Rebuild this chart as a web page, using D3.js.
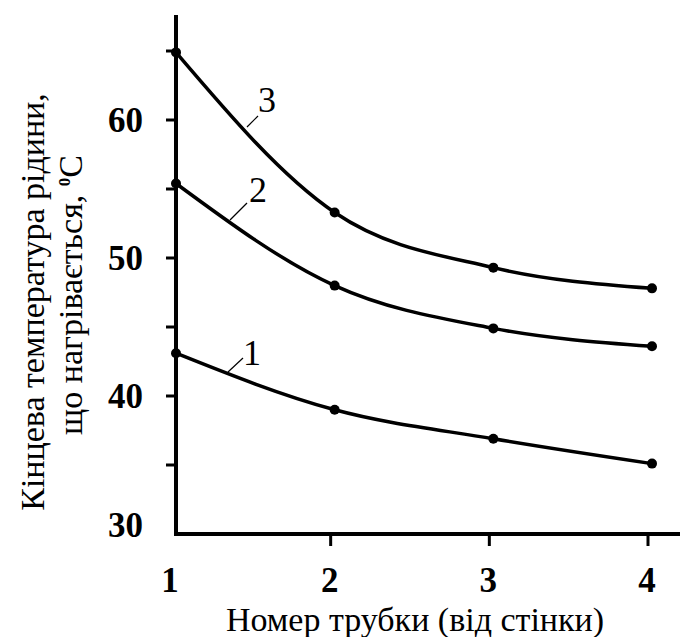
<!DOCTYPE html>
<html>
<head>
<meta charset="utf-8">
<script src="https://cdn.jsdelivr.net/npm/d3@7"></script>
<style>
  body { margin: 0; background: #fff; }
</style>
</head>
<body>
<svg id="chart" width="680" height="637"></svg>
<script>
// tube numbers (counted from the wall)
var tubes = [1, 2, 3, 4];

// final temperature of heated liquid, deg C
var curve1 = [43.1, 39.0, 36.9, 35.1];
var curve2 = [55.4, 48.0, 44.9, 43.6];
var curve3 = [64.9, 53.3, 49.3, 47.8];

var curveNames = ["1", "2", "3"];
var yTickLabels = [30, 40, 50, 60];
var yMinorTicks = [35, 45, 55, 65];

var svg = d3.select("#chart")
  .attr("font-family", "'Liberation Serif', 'DejaVu Serif', 'Times New Roman', serif");

var x = d3.scaleLinear().domain([1, 4]).range([176, 652]);
var y = d3.scaleLinear().domain([30, 60]).range([534, 120]);

var series = [curve1, curve2, curve3].map(function(vals, i) {
  return { name: curveNames[i], pts: tubes.map(function(t, j) { return [t, vals[j]]; }) };
});

// axes
var yAxis = svg.append("g").attr("transform", "translate(176,0)");
yAxis.append("line")
  .attr("x1", 0).attr("x2", 0)
  .attr("y1", 15).attr("y2", y(30) + 2)
  .attr("stroke", "#000").attr("stroke-width", 4);
yAxis.selectAll("line.tk")
  .data(yTickLabels.slice(1).concat(yMinorTicks))
  .enter().append("line")
  .attr("class", "tk")
  .attr("x1", -10).attr("x2", 0)
  .attr("y1", d => y(d)).attr("y2", d => y(d))
  .attr("stroke", "#000").attr("stroke-width", 3);
yAxis.selectAll("text")
  .data(yTickLabels)
  .enter().append("text")
  .attr("x", -33)
  .attr("y", d => y(d) + (d == 30 ? 3 : 12))
  .attr("text-anchor", "end")
  .attr("font-size", 35)
  .attr("font-weight", "bold")
  .text(d => d);

var xAxis = svg.append("g").attr("transform", "translate(0," + y(30) + ")");
xAxis.append("line")
  .attr("x1", 174).attr("x2", 680)
  .attr("stroke", "#000").attr("stroke-width", 4);
xAxis.selectAll("line.tk")
  .data(tubes.slice(1))
  .enter().append("line")
  .attr("class", "tk")
  .attr("x1", d => x(d) - 4).attr("x2", d => x(d) - 4)
  .attr("y1", 0).attr("y2", 12)
  .attr("stroke", "#000").attr("stroke-width", 3);
xAxis.selectAll("text")
  .data(tubes)
  .enter().append("text")
  .attr("x", d => x(d) - (d == 1 ? 6 : 5))
  .attr("y", 58)
  .attr("text-anchor", "middle")
  .attr("font-size", 35)
  .attr("font-weight", "bold")
  .text(d => d);

// axis titles
svg.append("text")
  .attr("x", 415).attr("y", 631)
  .attr("text-anchor", "middle")
  .attr("font-size", 34)
  .text("Номер трубки (від стінки)");

svg.append("text")
  .attr("transform", "translate(44,302) rotate(-90)")
  .attr("text-anchor", "middle")
  .attr("font-size", 34)
  .text("Кінцева температура рідини,");

var t2 = svg.append("text")
  .attr("transform", "translate(82,295) rotate(-90)")
  .attr("text-anchor", "middle")
  .attr("font-size", 34);
t2.append("tspan").text("що нагрівається, ");
t2.append("tspan").attr("font-size", 17).attr("font-weight", "bold").attr("dy", -12).text("0");
t2.append("tspan").attr("dy", 12).text("C");

// curves
var line = d3.line()
  .x(d => x(d[0]))
  .y(d => y(d[1]))
  .curve(d3.curveMonotoneX);

var g = svg.append("g");
g.selectAll("path")
  .data(series)
  .enter().append("path")
  .attr("d", d => line(d.pts))
  .attr("fill", "none")
  .attr("stroke", "#000")
  .attr("stroke-width", 3.5);

g.selectAll("g.pts")
  .data(series)
  .enter().append("g")
  .selectAll("circle")
  .data(d => d.pts)
  .enter().append("circle")
  .attr("cx", d => x(d[0]))
  .attr("cy", d => y(d[1]))
  .attr("r", 5)
  .attr("fill", "#000");

// curve labels with leader lines
var labelPos = [
  { lx: 228, ly: 372, ex: 243, ey: 358, tx: 252, ty: 365 },
  { lx: 230, ly: 220, ex: 247, ey: 203, tx: 258, ty: 202 },
  { lx: 247, ly: 127, ex: 258, ey: 116, tx: 267, ty: 112 }
];
series.forEach(function(s, i) {
  var p = labelPos[i];
  svg.append("line")
    .attr("x1", p.lx).attr("y1", p.ly)
    .attr("x2", p.ex).attr("y2", p.ey)
    .attr("stroke", "#000").attr("stroke-width", 1.2);
  svg.append("text")
    .attr("x", p.tx).attr("y", p.ty)
    .attr("text-anchor", "middle")
    .attr("font-size", 36)
    .text(s.name);
});
</script>
</body>
</html>
